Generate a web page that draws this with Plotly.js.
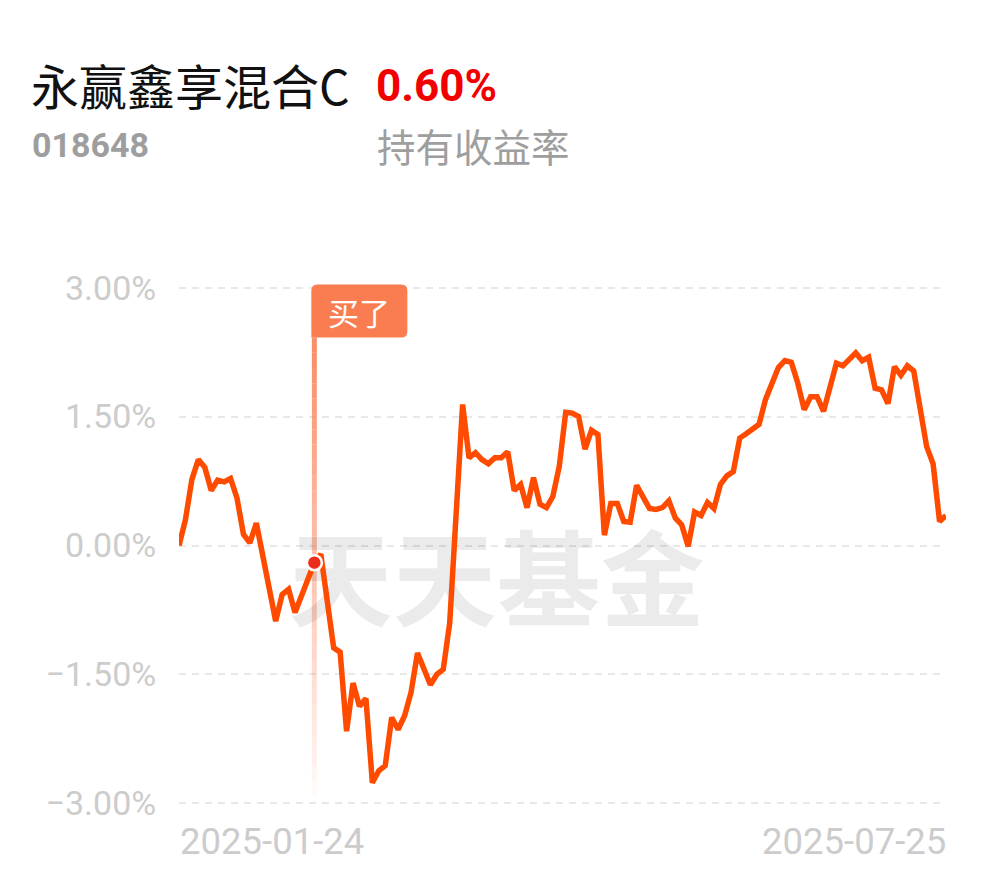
<!DOCTYPE html>
<html><head><meta charset="utf-8">
<script src="https://cdn.plot.ly/plotly-3.0.1.min.js"></script>
<style>html,body{margin:0;padding:0;background:#fff;}#chart{width:990px;height:878px;}</style>
</head><body><div id="chart"></div>
<script>
// ---- data ----
const dayIndex = [0,1,2,3,4,5,6,7,8,9,10,11,12,15,16,17,18,21,22,24,25,26,27,28,29,30,31,32,33,34,35,36,37,38,39,40,41,42,44,45,46,47,48,49,50,51,52,53,54,55,56,57,58,59,60,61,62,63,64,65,66,67,68,69,70,71,72,73,74,75,76,77,78,79,80,81,82,83,84,85,86,87,88,89,90,91,92,93,94,95,96,97,98,99,100,101,102,103,104,105,106,107,108,109,110,111,112,113,114,115,116,117,118,119];
const returnPct = [0.00,0.30,0.77,1.00,0.91,0.64,0.76,0.74,0.78,0.55,0.13,0.03,0.26,-0.88,-0.57,-0.51,-0.78,-0.20,-0.10,-1.19,-1.24,-2.16,-1.60,-1.87,-1.78,-2.76,-2.62,-2.56,-2.00,-2.14,-1.98,-1.71,-1.25,-1.42,-1.62,-1.50,-1.44,-0.90,1.64,1.02,1.08,1.00,0.95,1.02,1.02,1.09,0.64,0.71,0.44,0.79,0.48,0.44,0.57,0.92,1.55,1.54,1.50,1.12,1.34,1.29,0.12,0.49,0.49,0.28,0.27,0.70,0.55,0.43,0.42,0.44,0.52,0.32,0.24,-0.01,0.39,0.35,0.50,0.43,0.71,0.81,0.86,1.25,1.30,1.35,1.41,1.70,1.87,2.07,2.15,2.13,1.89,1.58,1.73,1.73,1.56,1.83,2.12,2.09,2.17,2.24,2.15,2.19,1.83,1.81,1.65,2.08,1.98,2.09,2.03,1.62,1.15,0.95,0.28,0.35];
const buyIndex = 21;
const buyValue = -0.20;
const buyLabel = "买了";
const yTickVals = [-3, -1.5, 0, 1.5, 3];
const yTickText = ["\u22123.00%", "\u22121.50%", "0.00%", "1.50%", "3.00%"];
const xLabels = ["2025-01-24", "2025-07-25"];
const fundName = "永赢鑫享混合C";
const fundCode = "018648";
const holdReturn = "0.60%";
const holdReturnLabel = "持有收益率";
const watermark = "天天基金";

// ---- layout geometry ----
const L = 179, R = 44, T = 279, B = 66, FW = 990, FH = 878;
const W = FW - L - R, H = FH - T - B;
const xMax = 119, yMin = -3.1, yMax = 3.1;
const pxPerX = W / xMax, pxPerY = H / (yMax - yMin);
const px = x => (x - L) / W;
const py = y => (T + H - y) / H;

const tagColor = '#F97D51';
const shapes = [];
// vertical buy line with fading gradient
const lineTop = 2.42, lineBot = -2.92, nSeg = 30;
for (let i = 0; i < nSeg; i++) {
  const y0 = lineTop - (lineTop - lineBot) * i / nSeg;
  const y1 = lineTop - (lineTop - lineBot) * (i + 1) / nSeg;
  const a = 0.85 * (1 - i / nSeg) + 0.02;
  shapes.push({type:'line', xref:'x', yref:'y', x0:buyIndex, x1:buyIndex, y0:y0, y1:y1,
    line:{color:`rgba(249,125,81,${a.toFixed(3)})`, width:5}, layer:'between'});
}
// rounded tag
const tx0 = buyIndex - 3 / pxPerX, tx1 = buyIndex + 93 / pxPerX;
const ty1 = lineTop + 53 / pxPerY, ty0 = lineTop;
const rx = 6 / pxPerX, ry = 6 / pxPerY;
shapes.push({type:'path', xref:'x', yref:'y', layer:'above', fillcolor:tagColor, line:{width:0},
  path:`M ${tx0} ${ty0} L ${tx0} ${ty1-ry} Q ${tx0} ${ty1} ${tx0+rx} ${ty1} L ${tx1-rx} ${ty1} Q ${tx1} ${ty1} ${tx1} ${ty1-ry} L ${tx1} ${ty0+ry} Q ${tx1} ${ty0} ${tx1-rx} ${ty0} Z`});

const traces = [
  {x:[49.3], y:[-0.55], mode:'text', text:['<b>'+watermark+'</b>'], hoverinfo:'skip', cliponaxis:false,
   textfont:{family:'Noto Sans CJK SC', size:104, color:'rgba(0,0,0,0.08)'}, showlegend:false},
  {x:dayIndex, y:returnPct, mode:'lines', line:{color:'#FF4B00', width:5.5}, cliponaxis:false, hoverinfo:'skip', showlegend:false},
  {x:[buyIndex], y:[buyValue], mode:'markers', cliponaxis:false, hoverinfo:'skip', showlegend:false,
   marker:{size:15, color:'#EE2E1C', line:{color:'#ffffff', width:2.5}}}
];

const annotations = [
  {xref:'paper', yref:'paper', x:px(29), y:py(84), xanchor:'left', yanchor:'middle', showarrow:false,
   text:fundName, font:{family:'Noto Sans CJK SC', size:48, color:'#111111'}},
  {xref:'paper', yref:'paper', x:px(374), y:py(86), xanchor:'left', yanchor:'middle', showarrow:false,
   text:'<b>'+holdReturn+'</b>', font:{family:'Roboto', size:44, color:'#F20000'}},
  {xref:'paper', yref:'paper', x:px(30), y:py(145), xanchor:'left', yanchor:'middle', showarrow:false,
   text:'<b>'+fundCode+'</b>', font:{family:'Roboto', size:34, color:'#9E9E9E'}},
  {xref:'paper', yref:'paper', x:px(375), y:py(145), xanchor:'left', yanchor:'middle', showarrow:false,
   text:holdReturnLabel, font:{family:'Noto Sans CJK SC', size:38.5, color:'#9E9E9E'}},
  {xref:'paper', yref:'paper', x:px(178), y:py(841), xanchor:'left', yanchor:'middle', showarrow:false,
   text:xLabels[0], font:{family:'Roboto', size:36.5, color:'#CCCCCC'}},
  {xref:'paper', yref:'paper', x:px(948), y:py(841), xanchor:'right', yanchor:'middle', showarrow:false,
   text:xLabels[1], font:{family:'Roboto', size:36.5, color:'#CCCCCC'}},
  {xref:'x', yref:'y', x:buyIndex + 45 / pxPerX, y:lineTop + 26 / pxPerY, xanchor:'center', yanchor:'middle', showarrow:false,
   text:buyLabel, font:{family:'Noto Sans CJK SC', size:31, color:'#ffffff'}}
];

const layout = {
  width:FW, height:FH, margin:{l:L, r:R, t:T, b:B, pad:0},
  paper_bgcolor:'#ffffff', plot_bgcolor:'#ffffff', showlegend:false,
  xaxis:{range:[0, xMax], showgrid:false, zeroline:false, showticklabels:false, showline:false, fixedrange:true},
  yaxis:{range:[yMin, yMax], tickvals:yTickVals, ticktext:yTickText, showgrid:true, gridcolor:'#E8E8E8',
    gridwidth:2, griddash:'7px,6px', zeroline:false, showline:false, ticks:'outside', ticklen:15,
    tickcolor:'rgba(0,0,0,0)', tickfont:{family:'Roboto', size:34, color:'#CCCCCC'}, fixedrange:true},
  shapes:shapes, annotations:annotations
};
Plotly.newPlot('chart', traces, layout, {displayModeBar:false, staticPlot:true});
</script></body></html>
